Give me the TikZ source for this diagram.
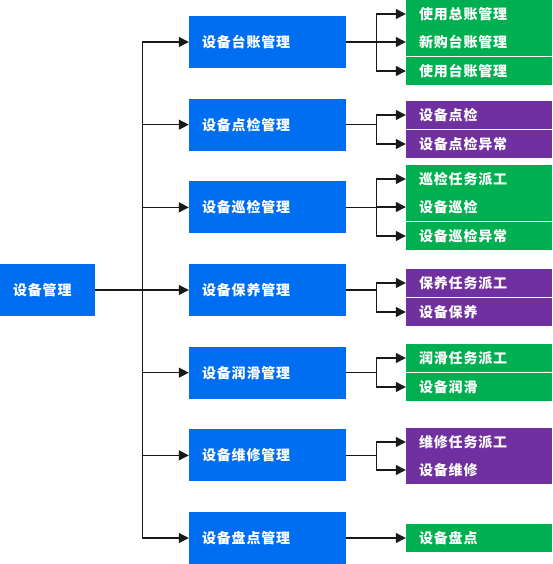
\documentclass[tikz,border=0pt]{standalone}
\usepackage{fontspec}
\newfontfamily\cjk{Noto Sans CJK SC}[LetterSpace=6]
\usetikzlibrary{arrows.meta}
\definecolor{boxBlue}{RGB}{0,110,240}
\definecolor{leafGreen}{RGB}{0,176,80}
\definecolor{leafPurple}{RGB}{112,48,160}
\begin{document}
\begin{tikzpicture}[x=1pt,y=-1pt,
		base/.style={fill=#1, text=white, font=\cjk\bfseries\fontsize{14}{16}\selectfont, inner xsep=13pt, inner ysep=0pt, align=left},
		midbox/.style={base=boxBlue, text width=131pt, minimum height=52pt},
		rootbox/.style={base=boxBlue, text width=69pt, minimum height=52pt},
		leaf/.style={base=#1, text width=120pt, minimum height=28pt},
		arr/.style={draw=black!90, line width=1.3pt, -{Triangle[length=10pt,width=10pt]}}]
	\useasboundingbox (0,0) rectangle (552,564);
	\node (root) [rootbox] at (47.5,290) {设备管理};
	\foreach \t [count=\i] in {设备台账管理,设备点检管理,设备巡检管理,设备保养管理,设备润滑管理,设备维修管理,设备盘点管理} {
		\node (m\i) [midbox] at (267.5,{42+82.67*(\i-1)}) {\t};
		\draw [arr] (root.east) -- ++(47,0) |- (m\i.west);
	}
	\foreach \n/\y/\c/\m/\t in {
		a1/14/leafGreen/m1/使用总账管理, a2/42/leafGreen/m1/新购台账管理, a3/71/leafGreen/m1/使用台账管理,
		b1/115/leafPurple/m2/设备点检, b2/144/leafPurple/m2/设备点检异常,
		c1/179/leafGreen/m3/巡检任务派工, c2/207/leafGreen/m3/设备巡检, c3/236/leafGreen/m3/设备巡检异常,
		d1/283/leafPurple/m4/保养任务派工, d2/312/leafPurple/m4/设备保养,
		e1/358/leafGreen/m5/润滑任务派工, e2/387/leafGreen/m5/设备润滑,
		f1/442/leafPurple/m6/维修任务派工, f2/470/leafPurple/m6/设备维修,
		g1/538/leafGreen/m7/设备盘点} {
		\node (\n) [leaf=\c] at (479,\y) {\t};
		\draw [arr] (\m.east) -- ++(30,0) |- (\n.west);
	}
\end{tikzpicture}
\end{document}
